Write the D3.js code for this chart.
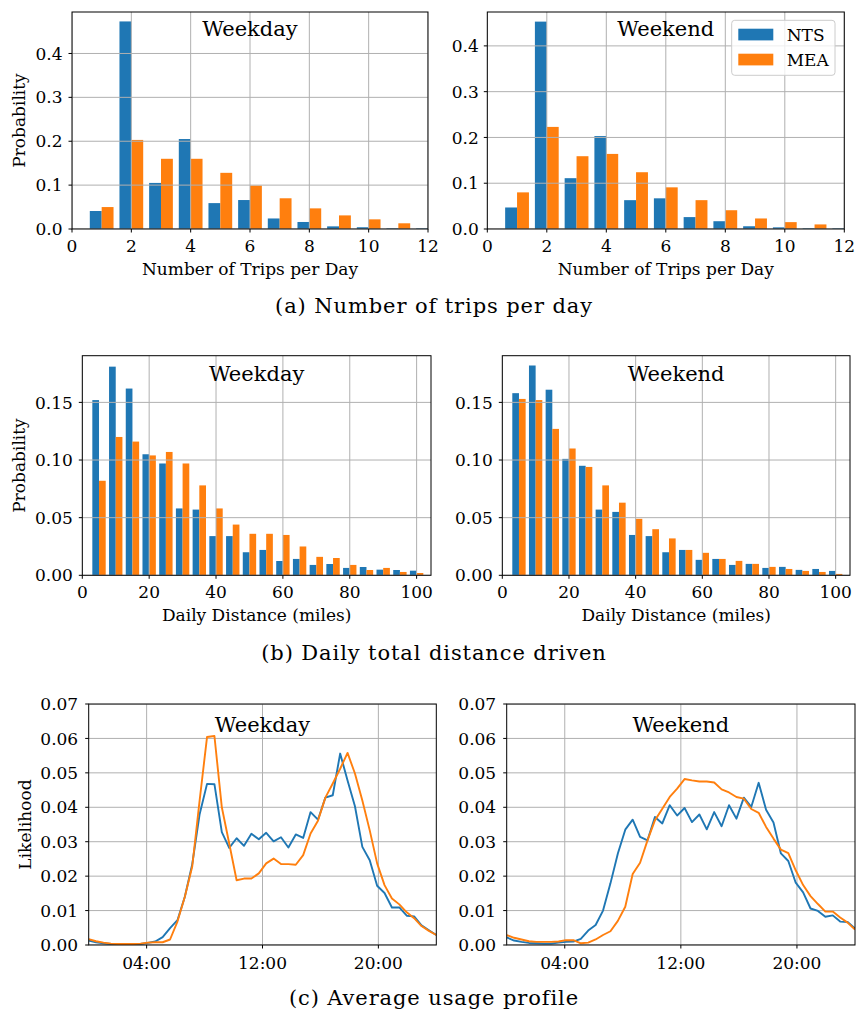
<!DOCTYPE html>
<html>
<head>
<meta charset="utf-8">
<script src="https://cdn.jsdelivr.net/npm/d3@7"></script>
<style>
  html, body { margin: 0; padding: 0; background: #fff; }
  svg { display: block; }
  text { font-family: "DejaVu Serif", serif; fill: #000; }
</style>
</head>
<body>
<script>
// ---- Number of trips per day ----
const tripCounts = [1, 2, 3, 4, 5, 6, 7, 8, 9, 10, 11, 12];
const weekdayTripsNTS = [0.041, 0.473, 0.105, 0.205, 0.059, 0.066, 0.024, 0.016, 0.006, 0.004, 0.0015, 0.0015];
const weekdayTripsMEA = [0.050, 0.203, 0.160, 0.160, 0.128, 0.099, 0.070, 0.047, 0.031, 0.022, 0.013];
const weekendTripsNTS = [0.047, 0.453, 0.111, 0.203, 0.063, 0.067, 0.026, 0.017, 0.006, 0.0036, 0.0015, 0.0015];
const weekendTripsMEA = [0.080, 0.223, 0.159, 0.164, 0.124, 0.091, 0.063, 0.041, 0.023, 0.015, 0.010];

// ---- Daily distance (5-mile bins) ----
const distBins = [5, 10, 15, 20, 25, 30, 35, 40, 45, 50, 55, 60, 65, 70, 75, 80, 85, 90, 95, 100];
const weekdayDistNTS = [0.152, 0.181, 0.162, 0.105, 0.097, 0.058, 0.057, 0.034, 0.034, 0.020, 0.022, 0.0124, 0.0142, 0.009, 0.0098, 0.0064, 0.0072, 0.0049, 0.0046, 0.004];
const weekdayDistMEA = [0.082, 0.120, 0.116, 0.104, 0.107, 0.097, 0.078, 0.058, 0.044, 0.036, 0.036, 0.035, 0.025, 0.016, 0.015, 0.009, 0.0046, 0.0064, 0.0029, 0.002];
const weekendDistNTS = [0.158, 0.182, 0.161, 0.101, 0.095, 0.057, 0.055, 0.035, 0.034, 0.020, 0.022, 0.0134, 0.0142, 0.009, 0.0099, 0.0064, 0.0073, 0.0047, 0.0055, 0.0038];
const weekendDistMEA = [0.153, 0.152, 0.127, 0.110, 0.094, 0.078, 0.063, 0.049, 0.040, 0.032, 0.022, 0.0195, 0.0142, 0.0125, 0.0099, 0.0073, 0.0055, 0.0038, 0.0029, 0.0012];

// ---- Average usage profile (48 slots across the day) ----
const profileSlots = d3.range(48);
const weekdayProfileNTS = [
  0.0013, 0.0008, 0.0005, 0.0003, 0.0002, 0.0002, 0.0002, 0.0003, 0.0006, 0.0010,
  0.0023, 0.0049, 0.0072, 0.0140, 0.0235, 0.0380, 0.0468, 0.0467, 0.0328, 0.0282,
  0.0310, 0.0288, 0.0323, 0.0307, 0.0326, 0.0301, 0.0313, 0.0283, 0.0321, 0.0311,
  0.0386, 0.0364, 0.0428, 0.0435, 0.0556, 0.0478, 0.0403, 0.0285, 0.0246, 0.0172,
  0.0151, 0.0109, 0.0109, 0.0085, 0.0083, 0.0057, 0.0043, 0.0029];
const weekdayProfileMEA = [
  0.0017, 0.0011, 0.0007, 0.0004, 0.0003, 0.0003, 0.0003, 0.0004, 0.0007, 0.0008,
  0.0008, 0.0016, 0.0068, 0.0140, 0.0228, 0.0420, 0.0604, 0.0607, 0.0400, 0.0295,
  0.0188, 0.0193, 0.0193, 0.0208, 0.0237, 0.0251, 0.0235, 0.0235, 0.0233, 0.0261,
  0.0324, 0.0361, 0.0428, 0.0469, 0.0512, 0.0558, 0.0498, 0.0420, 0.0333, 0.0237,
  0.0174, 0.0135, 0.0118, 0.0095, 0.0078, 0.0055, 0.0041, 0.0029];
const weekendProfileNTS = [
  0.0022, 0.0013, 0.0009, 0.0006, 0.0005, 0.0004, 0.0004, 0.0007, 0.0009, 0.0010,
  0.0018, 0.0042, 0.0058, 0.0100, 0.0179, 0.0266, 0.0335, 0.0364, 0.0314, 0.0304,
  0.0372, 0.0353, 0.0406, 0.0376, 0.0398, 0.0357, 0.0379, 0.0336, 0.0386, 0.0345,
  0.0406, 0.0367, 0.0428, 0.0401, 0.0471, 0.0393, 0.0356, 0.0266, 0.0244, 0.0181,
  0.0153, 0.0106, 0.0099, 0.0082, 0.0086, 0.0068, 0.0067, 0.0048];
const weekendProfileMEA = [
  0.0029, 0.0021, 0.0016, 0.0011, 0.0009, 0.0009, 0.0009, 0.0010, 0.0014, 0.0014,
  0.0005, 0.0007, 0.0016, 0.0029, 0.0040, 0.0070, 0.0111, 0.0206, 0.0239, 0.0304,
  0.0362, 0.0396, 0.0430, 0.0454, 0.0482, 0.0478, 0.0475, 0.0475, 0.0472, 0.0452,
  0.0443, 0.0430, 0.0425, 0.0395, 0.0384, 0.0343, 0.0309, 0.0277, 0.0267, 0.0217,
  0.0174, 0.0142, 0.0119, 0.0097, 0.0097, 0.0080, 0.0065, 0.0045];

// ---- Tick labels and names ----
const seriesNames = ["NTS", "MEA"];
const tripTicks = [0, 2, 4, 6, 8, 10, 12];
const tripProbTicks = [0.0, 0.1, 0.2, 0.3, 0.4];
const distTicks = [0, 20, 40, 60, 80, 100];
const distProbTicks = [0.00, 0.05, 0.10, 0.15];
const hourTicks = [4, 12, 20];
const hourTickLabels = ["04:00", "12:00", "20:00"];
const likelihoodTicks = [0.00, 0.01, 0.02, 0.03, 0.04, 0.05, 0.06, 0.07];
const captions = ["(a) Number of trips per day", "(b) Daily total distance driven", "(c) Average usage profile"];

const COLORS = { NTS: "#1f77b4", MEA: "#ff7f0e" };
const GRID = "#b0b0b0";
const FS = 17;

const svg = d3.select("body").append("svg")
  .attr("width", 857).attr("height", 1012);
svg.append("rect").attr("width", 857).attr("height", 1012).attr("fill", "#fff");

let clipId = 0;

function makeFrame(box, xDomain, yDomain) {
  const x = d3.scaleLinear().domain(xDomain).range([box.left, box.right]);
  const y = d3.scaleLinear().domain(yDomain).range([box.bottom, box.top]);
  const g = svg.append("g");
  const id = "clip" + (clipId++);
  g.append("clipPath").attr("id", id).append("rect")
    .attr("x", box.left).attr("y", box.top)
    .attr("width", box.right - box.left).attr("height", box.bottom - box.top);
  const plot = g.append("g").attr("clip-path", `url(#${id})`);
  return { x, y, g, plot };
}

function drawGrid(f, box, xTicks, yTicks) {
  const grid = f.plot.append("g").attr("stroke", GRID).attr("stroke-width", 1);
  grid.selectAll("line.gx").data(xTicks).join("line").attr("class", "gx")
    .attr("x1", d => f.x(d)).attr("x2", d => f.x(d))
    .attr("y1", box.top).attr("y2", box.bottom);
  grid.selectAll("line.gy").data(yTicks).join("line").attr("class", "gy")
    .attr("x1", box.left).attr("x2", box.right)
    .attr("y1", d => f.y(d)).attr("y2", d => f.y(d));
}

function drawFrame(f, box, opt) {
  const g = f.g;
  // spines
  g.append("rect")
    .attr("x", box.left).attr("y", box.top)
    .attr("width", box.right - box.left).attr("height", box.bottom - box.top)
    .attr("fill", "none").attr("stroke", "#000").attr("stroke-width", 1);
  // x ticks
  const xt = g.append("g");
  xt.selectAll("line").data(opt.xTicks).join("line")
    .attr("x1", d => f.x(d)).attr("x2", d => f.x(d))
    .attr("y1", box.bottom).attr("y2", box.bottom + 3.5)
    .attr("stroke", "#000").attr("stroke-width", 1);
  xt.selectAll("text").data(opt.xTicks).join("text")
    .attr("x", d => f.x(d)).attr("y", box.bottom + opt.xLabelGap)
    .attr("text-anchor", "middle").attr("font-size", FS)
    .text((d, i) => opt.xFormat(d, i));
  // y ticks
  const yt = g.append("g");
  yt.selectAll("line").data(opt.yTicks).join("line")
    .attr("x1", box.left - 3.5).attr("x2", box.left)
    .attr("y1", d => f.y(d)).attr("y2", d => f.y(d))
    .attr("stroke", "#000").attr("stroke-width", 1);
  yt.selectAll("text").data(opt.yTicks).join("text")
    .attr("x", box.left - opt.yLabelGap).attr("y", d => f.y(d)).attr("dy", "0.36em")
    .attr("text-anchor", "end").attr("font-size", FS)
    .text(opt.yFormat);
  // panel title
  g.append("text")
    .attr("x", (box.left + box.right) / 2).attr("y", box.top + opt.titleOffset)
    .attr("text-anchor", "middle").attr("font-size", 21)
    .text(opt.title);
  if (opt.xLabel) {
    g.append("text")
      .attr("x", (box.left + box.right) / 2).attr("y", box.bottom + opt.xTitleGap)
      .attr("text-anchor", "middle").attr("font-size", FS)
      .text(opt.xLabel);
  }
  if (opt.yLabel) {
    g.append("text")
      .attr("transform", `translate(${opt.yTitleX},${(box.top + box.bottom) / 2}) rotate(-90)`)
      .attr("text-anchor", "middle").attr("font-size", FS)
      .text(opt.yLabel);
  }
}

function barPanel(box, opt) {
  const f = makeFrame(box, opt.xDomain, opt.yDomain);
  const groups = [
    { name: "NTS", values: opt.nts, shift: -opt.barWidth },
    { name: "MEA", values: opt.mea, shift: 0 }
  ];
  groups.forEach(s => {
    f.plot.append("g").attr("fill", COLORS[s.name])
      .selectAll("rect").data(s.values.map((v, i) => ({ c: opt.bins[i], v })))
      .join("rect")
      .attr("x", d => f.x(d.c + s.shift))
      .attr("width", d => f.x(d.c + s.shift + opt.barWidth) - f.x(d.c + s.shift))
      .attr("y", d => f.y(d.v))
      .attr("height", d => f.y(0) - f.y(d.v));
  });
  drawGrid(f, box, opt.xTicks, opt.yTicks);
  drawFrame(f, box, opt);
  return f;
}

function linePanel(box, opt) {
  const f = makeFrame(box, opt.xDomain, opt.yDomain);
  drawGrid(f, box, opt.xTicks, opt.yTicks);
  const slotHour = i => i * 24 / (profileSlots.length - 1);
  const line = d3.line().x(d => f.x(slotHour(d.i))).y(d => f.y(d.v));
  [["NTS", opt.nts], ["MEA", opt.mea]].forEach(([name, vals]) => {
    f.plot.append("path")
      .datum(profileSlots.map(i => ({ i, v: vals[i] })))
      .attr("d", line)
      .attr("fill", "none").attr("stroke", COLORS[name])
      .attr("stroke-width", 1.9).attr("stroke-linejoin", "round");
  });
  drawFrame(f, box, opt);
  return f;
}

const fmt1 = d3.format(".1f");
const fmt2 = d3.format(".2f");
const fmtInt = d3.format("d");

// Row (a): trips per day
const tripCommon = {
  xDomain: [0, 12], xTicks: tripTicks, yTicks: tripProbTicks,
  xFormat: d => fmtInt(d), yFormat: fmt1,
  bins: tripCounts, barWidth: 0.4,
  xLabelGap: 22.5, yLabelGap: 9.5, titleOffset: 24, xTitleGap: 46,
  xLabel: "Number of Trips per Day", yTitleX: 25
};
barPanel({ left: 72, right: 428, top: 12, bottom: 229 }, Object.assign({}, tripCommon, {
  yDomain: [0, 0.4945], nts: weekdayTripsNTS, mea: weekdayTripsMEA,
  title: "Weekday", yLabel: "Probability"
}));
barPanel({ left: 487.3, right: 844.3, top: 12, bottom: 229 }, Object.assign({}, tripCommon, {
  yDomain: [0, 0.474], nts: weekendTripsNTS, mea: weekendTripsMEA,
  title: "Weekend", yLabel: null, yLabelGap: 8.5
}));

// Legend (top-right of the weekend trips panel)
const legend = svg.append("g");
legend.append("rect")
  .attr("x", 731.7).attr("y", 20.3).attr("width", 103.3).attr("height", 55)
  .attr("rx", 3).attr("fill", "#fff").attr("fill-opacity", 0.8)
  .attr("stroke", "#cccccc").attr("stroke-width", 1);
seriesNames.forEach((name, i) => {
  legend.append("rect")
    .attr("x", 738.3).attr("y", 28.7 + i * 25).attr("width", 35).attr("height", 11.7)
    .attr("fill", COLORS[name]);
  legend.append("text")
    .attr("x", 786.7).attr("y", 40.5 + i * 25).attr("font-size", FS)
    .text(name);
});

// Row (b): daily distance
const distCommon = {
  xDomain: [0, 104.3], xTicks: distTicks, yTicks: distProbTicks,
  xFormat: d => fmtInt(d), yFormat: fmt2, yDomain: [0, 0.1905],
  bins: distBins, barWidth: 2,
  xLabelGap: 23, yLabelGap: 9.5, titleOffset: 25, xTitleGap: 45.7,
  xLabel: "Daily Distance (miles)", yTitleX: 25
};
barPanel({ left: 82.3, right: 431, top: 355.7, bottom: 575.3 }, Object.assign({}, distCommon, {
  nts: weekdayDistNTS, mea: weekdayDistMEA, title: "Weekday", yLabel: "Probability"
}));
barPanel({ left: 502.3, right: 850, top: 355.7, bottom: 575.3 }, Object.assign({}, distCommon, {
  nts: weekendDistNTS, mea: weekendDistMEA, title: "Weekend", yLabel: null
}));

// Row (c): usage profile
const profCommon = {
  xDomain: [0, 24], yDomain: [0, 0.07], xTicks: hourTicks, yTicks: likelihoodTicks,
  xFormat: (d, i) => hourTickLabels[i], yFormat: fmt2,
  xLabelGap: 23.5, yLabelGap: 10.5, titleOffset: 27.7, xLabel: null, yTitleX: 31
};
linePanel({ left: 88.7, right: 436.3, top: 704, bottom: 945 }, Object.assign({}, profCommon, {
  nts: weekdayProfileNTS, mea: weekdayProfileMEA, title: "Weekday", yLabel: "Likelihood"
}));
linePanel({ left: 506.7, right: 855, top: 704, bottom: 945 }, Object.assign({}, profCommon, {
  nts: weekendProfileNTS, mea: weekendProfileMEA, title: "Weekend", yLabel: null
}));

// Sub-figure captions
const captionY = [313, 660, 1005];
captions.forEach((c, i) => {
  svg.append("text")
    .attr("x", 434).attr("y", captionY[i])
    .attr("text-anchor", "middle").attr("font-size", 21)
    .attr("letter-spacing", 0.9)
    .text(c);
});
</script>
</body>
</html>
